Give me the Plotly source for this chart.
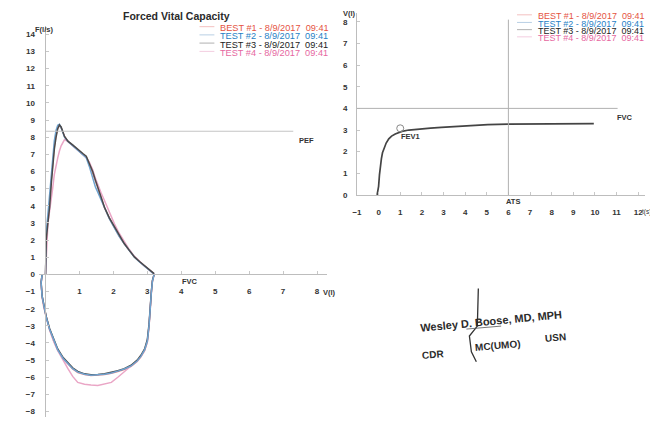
import plotly.graph_objects as go

W, H = 650, 423

# ---------------- data ----------------
test_names = ["BEST #1 - 8/9/2017\u00a0\u00a009:41", "TEST #2 - 8/9/2017\u00a0\u00a009:41",
              "TEST #3 - 8/9/2017\u00a0\u00a009:41", "TEST #4 - 8/9/2017\u00a0\u00a009:41"]

# flow-volume, expiratory part (volume l, flow l/s)
vol_exp = [0, 0.02, 0.07, 0.12, 0.17, 0.21, 0.26, 0.31, 0.36, 0.41, 0.46, 0.56, 0.66, 0.8, 0.95,
           1.1, 1.2, 1.29, 1.39, 1.47, 1.54, 1.64, 1.74, 1.88, 2.03, 2.17, 2.32, 2.47, 2.62, 2.77,
           2.91, 3.05, 3.15, 3.2]
flow_exp_best = [0, 2.2, 3.2, 4.1, 5.5, 6.6, 7.5, 8.1, 8.55, 8.7, 8.55, 8.05, 7.75, 7.52, 7.26,
                 7.02, 6.85, 6.45, 5.95, 5.45, 5.05, 4.48, 3.88, 3.28, 2.74, 2.23, 1.79, 1.39, 1.01,
                 0.74, 0.52, 0.31, 0.16, 0.03]
flow_exp_t2 = [0, 2.4, 3.5, 4.6, 6.0, 7.0, 7.8, 8.4, 8.7, 8.75, 8.55, 8.0, 7.75, 7.5, 7.25,
               7.0, 6.8, 6.3, 5.6, 5.1, 4.8, 4.35, 3.85, 3.25, 2.72, 2.22, 1.78, 1.38, 1.0,
               0.72, 0.5, 0.3, 0.15, 0.02]
flow_exp_t3 = [0, 2.0, 3.0, 3.9, 5.3, 6.4, 7.3, 8.0, 8.5, 8.72, 8.6, 8.05, 7.77, 7.55, 7.28,
               7.05, 6.9, 6.5, 6.0, 5.5, 5.07, 4.5, 3.9, 3.3, 2.76, 2.25, 1.8, 1.4, 1.02,
               0.75, 0.54, 0.33, 0.18, 0.05]
flow_exp_t4 = [0, 1.0, 2.95, 3.7, 4.3, 5.0, 5.84, 6.4, 6.8, 7.2, 7.5, 7.86, 7.75, 7.5, 7.25,
               7.0, 6.8, 6.55, 6.1, 5.6, 5.2, 4.75, 4.3, 3.6, 2.95, 2.4, 1.9, 1.45, 1.05,
               0.75, 0.5, 0.28, 0.1, 0]

# flow-volume, inspiratory part
vol_insp = [3.2, 3.15, 3.12, 3.09, 3.05, 3.0, 2.92, 2.81, 2.7, 2.52, 2.32, 2.13, 1.94, 1.74, 1.54,
            1.34, 1.15, 0.95, 0.8, 0.66, 0.52, 0.36, 0.24, 0.12, 0.02, -0.05, -0.1, -0.13, -0.1]
flow_insp_best = [0, -0.4, -1.05, -2.05, -3.05, -3.95, -4.45, -4.8, -5.08, -5.36, -5.55, -5.66,
                  -5.77, -5.84, -5.88, -5.9, -5.84, -5.72, -5.52, -5.25, -4.92, -4.42, -3.88,
                  -3.22, -2.52, -1.92, -1.32, -0.52, 0]
flow_insp_t2 = [0, -0.4, -1.0, -2.0, -3.0, -3.9, -4.4, -4.78, -5.05, -5.34, -5.52, -5.64, -5.75,
                -5.82, -5.86, -5.88, -5.82, -5.7, -5.5, -5.23, -4.9, -4.4, -3.85, -3.2, -2.5,
                -1.9, -1.3, -0.5, 0]
flow_insp_t3 = [0, -0.35, -0.95, -1.9, -2.9, -3.8, -4.35, -4.72, -5.0, -5.3, -5.5, -5.62, -5.72,
                -5.8, -5.84, -5.85, -5.8, -5.66, -5.45, -5.18, -4.85, -4.35, -3.8, -3.15, -2.45,
                -1.85, -1.25, -0.45, 0]
flow_insp_t4 = [0, -0.4, -1.0, -2.0, -3.0, -3.9, -4.4, -4.78, -5.05, -5.34, -5.65, -6.0, -6.3,
                -6.4, -6.48, -6.45, -6.4, -6.3, -5.95, -5.5, -5.0, -4.45, -3.9, -3.25, -2.5,
                -1.9, -1.3, -0.5, 0]

# volume-time
t_vt = [-0.07, 0.0, 0.04, 0.08, 0.13, 0.18, 0.24, 0.35, 0.47, 0.6, 0.77, 1.08, 1.4, 1.84, 2.4,
        2.9, 3.67, 4.4, 5.05, 6, 7, 8, 9, 9.95]
v_vt = [0, 0.4, 0.93, 1.35, 1.68, 1.95, 2.13, 2.4, 2.59, 2.72, 2.82, 2.94, 3.0, 3.05, 3.09,
        3.12, 3.17, 3.22, 3.25, 3.27, 3.28, 3.29, 3.3, 3.3]
fev1_t = [1.0]
fev1_v = [3.08]

pef_value = 8.35
fvc_pred = 4.0
ats_time = 6.0

fv_xticks = [1, 2, 3, 4, 5, 6, 7, 8]
fv_yticks = list(range(-8, 15))
vt_xticks = list(range(-1, 13))
vt_yticks = list(range(0, 9))

# ---------------- styling ----------------
curve_cols = ["#f08c8c", "#6fa3cf", "#4a4a4a", "#eaa6c6"]
text_cols = ["#e5533f", "#1f7fc6", "#222222", "#e6679f"]
sample_cols = ["#f3c0c0", "#b8cfe4", "#b0b0b0", "#f3cde0"]
FONT = "Liberation Sans"


def px(x):
    return x / W


def py(y):
    return 1 - y / H


fig = go.Figure()

exp_sets = [flow_exp_best, flow_exp_t2, flow_exp_t3, flow_exp_t4]
insp_sets = [flow_insp_best, flow_insp_t2, flow_insp_t3, flow_insp_t4]

# expiratory: grey on top ; inspiratory: blue on top
for i in [0, 3, 1, 2]:
    fig.add_trace(go.Scatter(x=vol_exp, y=exp_sets[i], mode="lines", name=test_names[i],
                             line=dict(color=curve_cols[i], width=1.5), xaxis="x", yaxis="y",
                             showlegend=False))
for i in [0, 3, 2, 1]:
    fig.add_trace(go.Scatter(x=vol_insp, y=insp_sets[i], mode="lines", name=test_names[i],
                             line=dict(color=curve_cols[i], width=1.5), xaxis="x", yaxis="y",
                             showlegend=False))

fig.add_trace(go.Scatter(x=t_vt, y=v_vt, mode="lines", line=dict(color="#444444", width=1.7),
                         xaxis="x2", yaxis="y2", showlegend=False))
fig.add_trace(go.Scatter(x=fev1_t, y=fev1_v, mode="markers",
                         marker=dict(symbol="circle-open", size=7, color="#888888",
                                     line=dict(width=1)),
                         xaxis="x2", yaxis="y2", showlegend=False))

tickfont = dict(family=FONT, size=8, color="#333333", weight="bold")
axis_common = dict(showgrid=False, zeroline=False, showline=True, linecolor="#bdbdbd",
                   linewidth=1, ticks="inside", ticklen=3, tickcolor="#c8c8c8",
                   tickfont=tickfont, fixedrange=True, ticklabeloverflow="allow")

fv_x0, fv_x1 = -0.2, 8.3
fv_y0, fv_y1 = -8.3, 14.5
fig.update_layout(
    width=W, height=H, margin=dict(l=0, r=0, t=0, b=0), autosize=False,
    paper_bgcolor="white", plot_bgcolor="white",
    xaxis=dict(domain=[px(34), px(324.7)], range=[fv_x0, fv_x1], tickvals=fv_xticks,
               anchor="free", position=py(277.7), ticklabelstandoff=9, **axis_common),
    yaxis=dict(domain=[py(421.7), py(26.1)], range=[fv_y0, fv_y1], tickvals=fv_yticks,
               anchor="free", position=px(40.8), ticklabelstandoff=9, **axis_common),
    xaxis2=dict(domain=[px(354.7), px(644.6)], range=[-1, 12.3], tickvals=vt_xticks,
                anchor="y2", ticklabelstandoff=9, **axis_common),
    yaxis2=dict(domain=[py(197.3), py(13.3)], range=[0, 8.4], tickvals=vt_yticks,
                anchor="x2", ticklabelstandoff=7, **axis_common),
)

shapes = []
shapes.append(dict(type="line", xref="x", yref="y", x0=0, x1=7.3, y0=pef_value, y1=pef_value,
                   line=dict(color="#c4c4c4", width=1)))
shapes.append(dict(type="line", xref="x2", yref="y2", x0=-1, x1=11.05, y0=fvc_pred, y1=fvc_pred,
                   line=dict(color="#b0b0b0", width=1)))
shapes.append(dict(type="line", xref="x2", yref="y2", x0=ats_time, x1=ats_time, y0=0, y1=8.1,
                   line=dict(color="#b0b0b0", width=1)))

annotations = []


def ann(text, x, y, size=8, color="#333333", bold=True, xanchor="left", angle=0):
    annotations.append(dict(text=text, x=px(x), y=py(y), xref="paper", yref="paper",
                            showarrow=False, xanchor=xanchor, yanchor="middle", textangle=angle,
                            borderpad=0,
                            font=dict(family=FONT, size=size, color=color,
                                      weight="bold" if bold else "normal")))


# legends (left and right)
left_rows = [28.5, 36.8, 45.1, 53.5]
right_rows = [16.5, 24.2, 31.5, 38.8]
for i in range(4):
    shapes.append(dict(type="line", xref="paper", yref="paper", x0=px(196), x1=px(211),
                       y0=py(left_rows[i] - 1.5), y1=py(left_rows[i] - 1.5),
                       line=dict(color=sample_cols[i], width=1)))
    ann(test_names[i], 216, left_rows[i], size=9.2, color=text_cols[i], bold=False)
    shapes.append(dict(type="line", xref="paper", yref="paper", x0=px(516), x1=px(531),
                       y0=py(right_rows[i] - 1.5), y1=py(right_rows[i] - 1.5),
                       line=dict(color=sample_cols[i], width=1)))
    ann(test_names[i], 536, right_rows[i], size=9.0, color=text_cols[i], bold=False)

ann("Forced Vital Capacity", 173, 16, size=10.5, color="#2a2a2a", xanchor="center")
ann("F(l/s)", 39, 30, size=7.5, xanchor="center")
ann("V(l)", 319, 296, size=7.5)
ann("PEF", 295, 142, size=7.5)
ann("FVC", 177, 285, size=7.5)
ann("V(l)", 347, 14, size=7.5, xanchor="center")
ann("t(s)", 640.5, 215, size=6.5, bold=False)
ann("FVC", 616, 119, size=7.5)
ann("ATS", 504, 204, size=7.5)
ann("FEV1", 398, 138, size=7.5)

# signature block
ann("Wesley D. Boose, MD, MPH", 490, 325, size=11, color="#2b2b2b", xanchor="center", angle=-5.5)
ann("CDR", 431, 359, size=10, color="#2b2b2b", xanchor="center", angle=-5)
ann("MC(UMO)", 497, 350, size=10, color="#2b2b2b", xanchor="center", angle=-5)
ann("USN", 555, 342, size=10, color="#2b2b2b", xanchor="center", angle=-5)

sig_pts = [(477, 292), (476, 330), (468, 340), (470, 356), (475, 366)]
path = "M " + " L ".join(f"{px(a):.5f},{py(b):.5f}" for a, b in sig_pts)
shapes.append(dict(type="path", xref="paper", yref="paper", path=path,
                   line=dict(color="#333333", width=1.3)))
shapes.append(dict(type="line", xref="paper", yref="paper", x0=px(465), x1=px(500),
                   y0=py(333), y1=py(330), line=dict(color="#555555", width=0.8)))

fig.update_layout(shapes=shapes, annotations=annotations)

fig.write_html("out.html", config={"displayModeBar": False, "staticPlot": True})

# remove the default 8px page margin so the figure sits at the window's origin
with open("out.html", "r", encoding="utf-8") as f:
    html = f.read()
html = html.replace("<body>", '<body style="margin:0;padding:0;overflow:hidden">', 1)
with open("out.html", "w", encoding="utf-8") as f:
    f.write(html)
